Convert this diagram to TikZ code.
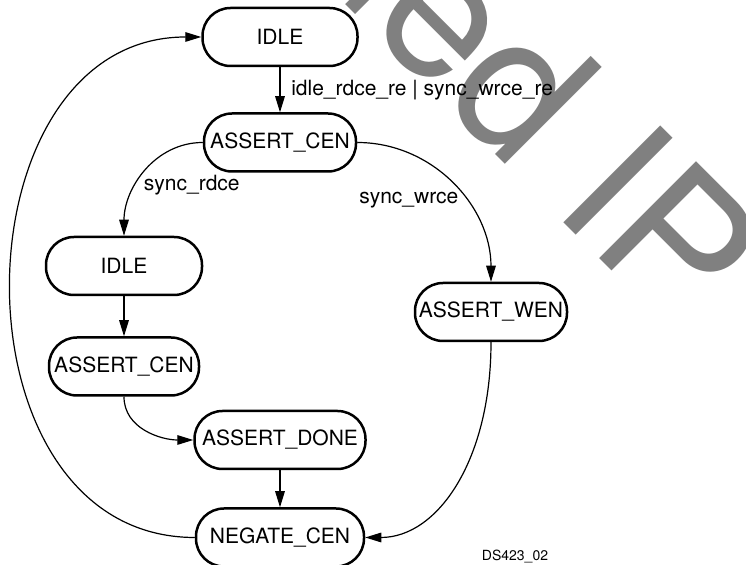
\documentclass[tikz,border=0pt]{standalone}
\usepackage{fontspec}
\setmainfont{TeX Gyre Heros}
\usetikzlibrary{arrows.meta, positioning}
\definecolor{wmgray}{HTML}{808080}

\begin{document}
\begin{tikzpicture}[x=0.5pt, y=0.5pt, >={Triangle[length=8pt, width=4.8pt]}, font=\fontsize{10.5}{12}\selectfont,
	fsmstate/.style={draw, line width=1.25pt, rounded corners=14pt, minimum height=29pt, inner xsep=1pt},
	link/.style={->, line width=0.6pt}]

\useasboundingbox (0,0) rectangle (746,-565);

\node[rotate=-45, anchor=base east, inner sep=0, text=wmgray, font=\fontsize{94}{94}\selectfont] (wmark) at (676,-335) {Discontinued IP};

\node[fsmstate, minimum width=77.5pt] (idle) at (280,-37) {IDLE};
\node[fsmstate, minimum width=76pt, below=22.5pt of idle] (acen) {ASSERT\_CEN};

\node[fsmstate, minimum width=78pt] (idle2) at (124,-266) {IDLE};
\node[fsmstate, minimum width=75pt, below=20pt of idle2] (acen2) {ASSERT\_CEN};
\node[fsmstate, minimum width=85.5pt] (adone) at (280,-440) {ASSERT\_DONE};
\node[fsmstate, minimum width=84pt, below=18.5pt of adone] (negcen) {NEGATE\_CEN};

\node[fsmstate, minimum width=76pt] (awen) at (491,-312) {ASSERT\_WEN};

\node[font=\fontsize{7}{8}\selectfont] (figid) at (515,-557) {DS423\_02};

\draw[link] (idle) -- node[right, xshift=2pt] {idle\_rdce\_re | sync\_wrce\_re} (acen);
\draw[link] (acen.west) to[out=180, in=90] node[pos=0.62, right] {sync\_rdce} (idle2.north);
\draw[link] (acen.east) to[out=0, in=90] node[pos=0.6, left] {sync\_wrce} (awen.north);

\draw[link] (idle2) -- (acen2);
\draw[link] (acen2.south) to[out=-90, in=180] (adone.west);
\draw[link] (adone) -- (negcen);
\draw[link] (awen.south) to[out=-90, in=0, out looseness=1.3, in looseness=0.8] (negcen.east);

\draw[link] (negcen.west) to[out=180, in=180, looseness=1.27] (idle.west);

\end{tikzpicture}
\end{document}
